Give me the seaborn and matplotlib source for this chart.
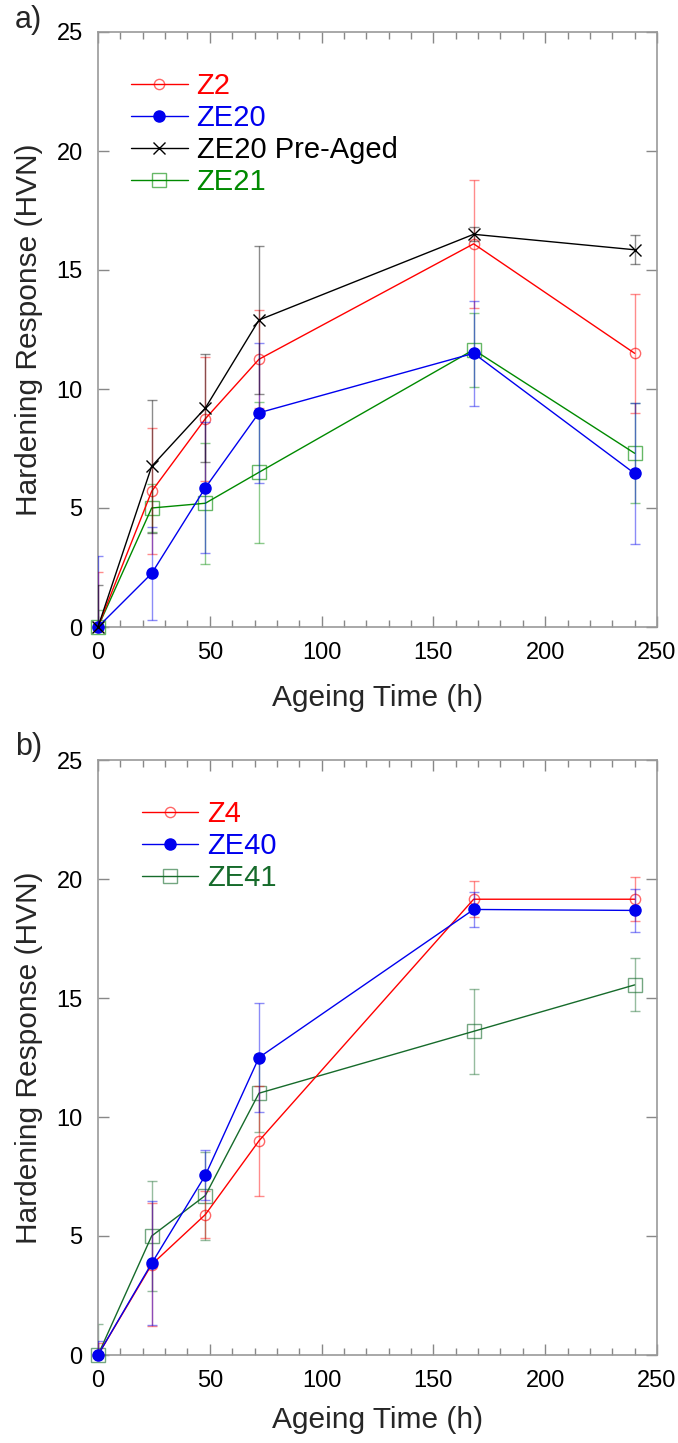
import matplotlib
matplotlib.use("Agg")
import matplotlib.pyplot as plt
import numpy as np
import pandas as pd
import seaborn as sns
from matplotlib.colors import to_rgba
from matplotlib.ticker import MultipleLocator

# Ageing times (h) shared by every series
ageing_time = [0, 24, 48, 72, 168, 240]

# Panel a: hardening response (HVN) and error bars
z2 = [0.0, 5.7, 8.75, 11.25, 16.1, 11.5]
z2_err = [2.3, 2.65, 2.6, 2.05, 2.7, 2.5]
ze20 = [0.0, 2.25, 5.85, 9.0, 11.5, 6.45]
ze20_err = [3.0, 1.95, 2.75, 2.95, 2.2, 2.95]
ze20_pre = [0.0, 6.75, 9.2, 12.9, 16.5, 15.85]
ze20_pre_err = [1.75, 2.8, 2.25, 3.1, 0.3, 0.6]
ze21 = [0.0, 5.0, 5.2, 6.5, 11.65, 7.3]
ze21_err = [0.7, 1.0, 2.55, 2.95, 1.55, 2.1]

# Panel b
z4 = [0.0, 3.8, 5.9, 9.0, 19.15, 19.15]
z4_err = [0.5, 2.6, 1.0, 2.3, 0.75, 0.92]
ze40 = [0.0, 3.85, 7.55, 12.5, 18.72, 18.68]
ze40_err = [0.6, 2.6, 1.05, 2.3, 0.75, 0.91]
ze41 = [0.0, 5.0, 6.7, 11.0, 13.6, 15.55]
ze41_err = [1.3, 2.33, 1.85, 1.63, 1.78, 1.11]

RED = "#ff0000"
BLUE = "#0000ee"
BLACK = "#000000"
GREEN_A = "#008a00"
GREEN_B = "#166b2b"

sns.set_theme(style="white")
plt.rcParams["font.family"] = ["Liberation Sans", "DejaVu Sans"]

W, H = 678, 1443
fig = plt.figure(figsize=(W / 100, H / 100), dpi=100)
ax_a = fig.add_axes([98 / W, 1 - 627 / H, 559 / W, 595 / H])
ax_b = fig.add_axes([98 / W, 1 - 1355 / H, 559 / W, 595 / H])


def draw_series(ax, y, err, label, color, marker, style, ms, z):
    # error bars stay clipped to the plotting area
    ax.errorbar(ageing_time, y, yerr=err, fmt="none",
                ecolor=to_rgba(color, 0.45), elinewidth=1.0,
                capsize=3.5, capthick=1.0, zorder=z - 0.5)
    df = pd.DataFrame({"t": ageing_time, "v": y})
    if style == "open":
        mkw = dict(markerfacecolor="none",
                   markeredgecolor=to_rgba(color, 0.6), markeredgewidth=1.0)
    elif style == "filled":
        mkw = dict(markerfacecolor=color, markeredgecolor=color,
                   markeredgewidth=1.0)
    else:
        mkw = dict(markeredgecolor=color, markeredgewidth=1.0)
    # markers on the axis edge are drawn in full
    sns.lineplot(data=df, x="t", y="v", ax=ax, color=color, marker=marker,
                 markersize=ms, linewidth=1.0, label=label, zorder=z,
                 errorbar=None, clip_on=False, **mkw)


def style_axes(ax):
    ax.set_xlim(0, 250)
    ax.set_ylim(0, 25)
    ax.xaxis.set_major_locator(MultipleLocator(50))
    ax.xaxis.set_minor_locator(MultipleLocator(10))
    ax.yaxis.set_major_locator(MultipleLocator(5))
    ax.tick_params(axis="both", which="both", direction="in",
                   colors="#888888", labelcolor="black", labelsize=17)
    ax.tick_params(axis="x", which="major", length=8, width=1,
                   top=True, bottom=True, pad=11)
    ax.tick_params(axis="x", which="minor", length=5, width=1,
                   top=True, bottom=True)
    ax.tick_params(axis="y", which="major", length=8, width=1,
                   left=True, right=True, pad=11)
    for sp in ax.spines.values():
        sp.set_color("#999999")
        sp.set_linewidth(1.2)
        sp.set_visible(True)
    ax.set_xlabel("Ageing Time (h)", fontsize=21.5)
    ax.set_ylabel("Hardening Response (HVN)", fontsize=21.5, labelpad=10)
    ax.grid(False)


def colored_legend(ax, order, colors, anchor):
    handles, labels = ax.get_legend_handles_labels()
    lookup = dict(zip(labels, handles))
    leg = ax.legend([lookup[k] for k in order], order,
                    loc="upper left", bbox_to_anchor=anchor, frameon=False,
                    fontsize=21, handlelength=1.95, handletextpad=0.3,
                    labelspacing=0.14, borderpad=0, borderaxespad=0)
    for txt, c in zip(leg.get_texts(), colors):
        txt.set_color(c)
    return leg


# Panel a
draw_series(ax_a, ze21, ze21_err, "ZE21", GREEN_A, "s", "open", 9.4, 3)
draw_series(ax_a, z2, z2_err, "Z2", RED, "o", "open", 7.4, 4)
draw_series(ax_a, ze20, ze20_err, "ZE20", BLUE, "o", "filled", 8.0, 5)
draw_series(ax_a, ze20_pre, ze20_pre_err, "ZE20 Pre-Aged", BLACK, "x", "x", 8.5, 6)
style_axes(ax_a)
ax_a.xaxis.labelpad = 14
colored_legend(ax_a, ["Z2", "ZE20", "ZE20 Pre-Aged", "ZE21"],
               [RED, BLUE, BLACK, GREEN_A], (0.059, 0.933))

# Panel b
draw_series(ax_b, ze41, ze41_err, "ZE41", GREEN_B, "s", "open", 9.4, 3)
draw_series(ax_b, z4, z4_err, "Z4", RED, "o", "open", 7.4, 4)
draw_series(ax_b, ze40, ze40_err, "ZE40", BLUE, "o", "filled", 8.0, 5)
style_axes(ax_b)
ax_b.xaxis.labelpad = 10
colored_legend(ax_b, ["Z4", "ZE40", "ZE41"],
               [RED, BLUE, GREEN_B], (0.078, 0.933))

fig.text(15 / W, 1 - 20 / H, "a)", fontsize=22, ha="left", va="center")
fig.text(15 / W, 1 - 747 / H, "b)", fontsize=22, ha="left", va="center")

fig.savefig("out.png", dpi=100)
